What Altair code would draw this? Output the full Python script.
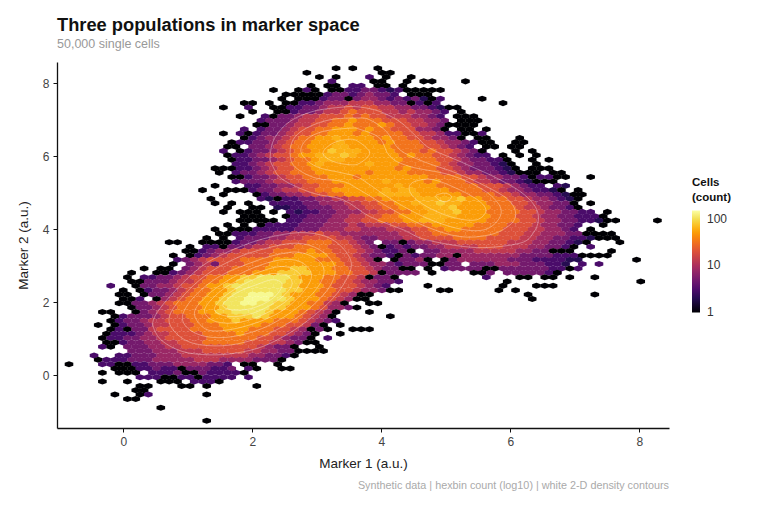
import altair as alt
import pandas as pd

# Hex counts, row by row from the top: (first column, colour levels).
LEVEL_COUNTS = {"0":1,"1":2,"2":3,"3":5,"4":8,"5":13,"6":20,"7":32,"8":50,"p":62,"9":80,"a":105,"b":135}
HEX_X0, HEX_DX = -0.842, 0.1294
HEX_Y0, HEX_DY = 8.411, 0.1192

HEX_ROWS = [
 [(32,"0 0"),(37,"0")],
 [(28,"0"),(37,"00")],
 [(30,"0 0"),(36,"2 0"),(41,"0")],
 [(31,"2"),(36,"00"),(40,"0 00"),(47,"0")],
 [(29,"0 00"),(34,"2"),(35,"2"),(37,"00 0")],
 [(24,"0"),(27,"020 002233212"),(40,"0000"),(44,"0")],
 [(26,"00000233234332 000")],
 [(25,"0"),(27,"00023303443232"),(41,"3102"),(49,"0")],
 [(21,"00"),(24,"0"),(26,"002234445554433"),(41,"0202"),(52,"0")],
 [(18,"0"),(21,"2"),(24,"002"),(27,"23345565665544332"),(44,"10"),(46,"0")],
 [(22,"0"),(25,"00"),(27,"2334556766655454432"),(47,"0")],
 [(20,"0"),(23,"20"),(25,"3345566676766555443"),(44,"2 000")],
 [(23,"233"),(26,"34556677877766655443"),(47,"000")],
 [(22,"00"),(24,"334556677877787665543"),(45,"0000")],
 [(21,"2"),(23,"2334566778887877666443"),(45,"0 00"),(50,"0")],
 [(18,"0"),(20,"202"),(23,"33456677888787777665542"),(46,"2002")],
 [(21,"0"),(22,"2344567788p88887877665443"),(47,"0 00"),(54,"0")],
 [(19,"0"),(20,"22"),(22,"3345677888p8888787776654432"),(49,"00"),(53,"00")],
 [(19,"00 3345677888pp88888777766543"),(48,"2"),(50,"00"),(53,"00")],
 [(18,"2 0"),(21,"23345677889ppp888877767665432"),(49,"0"),(53,"0"),(55,"0")],
 [(19,"02"),(21,"234566788ppp9p888887877665432"),(50,"2"),(52,"0"),(54,"0"),(56,"0")],
 [(19,"0"),(20,"2233456778ppp888888877776654"),(48,"3322"),(52,"0"),(55,"0"),(57,"0")],
 [(20,"2"),(21,"234566778p88888p88877777654"),(48,"43321"),(53,"0"),(56,"0")],
 [(17,"000"),(20,"22345667788888888887877766543"),(49,"33210"),(55,"00"),(57,"0")],
 [(18,"0"),(20,"2"),(21,"3345667778888887888877776654"),(49,"4332100"),(56,"0"),(58,"0"),(59,"0")],
 [(19,"00"),(21,"2"),(22,"33456677788878888888877776654"),(51,"4332"),(55,"0"),(56,"2"),(57,"20"),(59,"0"),(62,"0")],
 [(20,"2"),(21,"33"),(23,"345566777888888p88887877765"),(50,"54332"),(55,"1"),(56,"000")],
 [(17,"0"),(21,"2"),(22,"23344566777888888p8888777776"),(50,"665432"),(56,"2 2"),(59,"1")],
 [(16,"0"),(19,"000"),(22,"2334556677888888p8pp88887777"),(50,"6654432"),(57,"21"),(59,"0"),(61,"0")],
 [(18,"0"),(22,"0"),(23,"23344566778888ppppp88888777"),(50,"7665443"),(57,"3210"),(61,"0")],
 [(17,"0"),(23,"21022334455"),(34,"6677888"),(41,"8ppppp98"),(49,"87776"),(54,"65443"),(59,"210")],
 [(17,"0"),(19,"0"),(21,"0"),(24,"2"),(25,"22233444"),(33,"5566778"),(40,"8ppp9pp8"),(48,"88777"),(53,"66544"),(58,"33"),(60,"0"),(62,"0")],
 [(19,"0"),(22,"00"),(25,"11223334"),(33,"4556677"),(40,"888ppp98"),(48,"88877"),(53,"76554"),(58,"332"),(61,"0")],
 [(18,"0"),(20,"000"),(24,"0"),(26,"2"),(27,"122334"),(33,"4455667"),(40,"788ppp98"),(48,"88777"),(53,"76654"),(58,"4332"),(62,"2"),(64,"0")],
 [(21,"000"),(26,"0"),(27,"2233"),(31,"344556"),(37,"677888p"),(44,"ppp8888"),(51,"77766"),(56,"5443"),(60,"322"),(63,"20")],
 [(20,"00000"),(26,"2"),(27,"23"),(29,"33445"),(34,"5667778"),(41,"8ppp8888"),(49,"877776"),(55,"65443"),(60,"3221"),(64,"00"),(70,"0")],
 [(19,"0"),(21,"0"),(23,"0"),(24,"2"),(25,"22233"),(30,"34445"),(35,"4555667"),(42,"77888887"),(50,"777666"),(56,"5443"),(60,"32"),(64,"0")],
 [(17,"0"),(19,"000"),(22,"22"),(24,"2"),(25,"22333"),(30,"44455"),(35,"4445556"),(42,"6778877"),(49,"77766"),(54,"65544"),(59,"32"),(62,"0")],
 [(18,"00"),(20,"2"),(21,"22334"),(26,"45556"),(31,"554"),(34,"4444"),(38,"44556677"),(46,"7777776"),(53,"66554"),(58,"4433"),(62,"0000")],
 [(16,"0"),(18,"0 2"),(21,"33344"),(26,"55666"),(31,"65543"),(36,"3"),(37,"44455666"),(45,"677776"),(51,"6665"),(55,"5443"),(59,"322"),(62,"1000")],
 [(12,"00"),(16,"00"),(18,"002"),(21,"334"),(24,"5566"),(28,"6777"),(32,"665"),(35,"4"),(36,"3 330"),(41,"34455566"),(49,"66665"),(54,"55443"),(59,"3210"),(66,"0")],
 [(14,"0"),(16,"22"),(18,"0"),(19,"33"),(21,"4556"),(25,"6677"),(29,"776"),(32,"665"),(35,"4"),(36,"30232"),(41,"33445"),(46,"5556665"),(53,"55443"),(58,"32"),(60,"0"),(62,"2")],
 [(14,"00"),(16,"234"),(19,"4566"),(23,"667"),(26,"7778"),(30,"776"),(33,"665"),(36,"4322"),(40,"3"),(41,"0"),(43,"33444455"),(51,"555443"),(57,"3"),(58,"000"),(65,"0")],
 [(12,"0"),(14,"0"),(15,"234"),(18,"5666"),(22,"667"),(25,"7788"),(29,"887"),(32,"66"),(34,"54"),(36,"332"),(39,"0"),(40,"323344"),(46,"0"),(47,"444444"),(53,"43333"),(58,"222"),(61,"0000")],
 [(13,"234"),(16,"5666"),(20,"677"),(23,"7788"),(27,"888"),(30,"777"),(33,"66"),(35,"54"),(37,"0"),(39,"0"),(40,"334"),(43,"0"),(45,"0"),(46,"3444"),(50,"4443"),(54,"3322"),(58,"2211"),(68,"0")],
 [(12,"0"),(14,"34"),(16,"5"),(17,"3"),(18,"6"),(19,"667"),(22,"778"),(25,"88888"),(30,"887"),(33,"66"),(35,"544"),(38,"32"),(40,"333"),(43,"00"),(45,"33"),(48,"3334"),(52,"4433"),(56,"3221"),(61,"2"),(63,"2")],
 [(9,"0"),(11,"00"),(14,"345"),(17,"66"),(19,"677"),(22,"778"),(25,"88998"),(30,"887"),(33,"766"),(36,"543"),(39,"3"),(40,"00"),(43,"0"),(45,"2"),(46,"3333"),(50,"00"),(52,"3333"),(56,"3322"),(60,"02")],
 [(7,"0"),(10,"00"),(12,"234"),(15,"566"),(18,"677"),(21,"788"),(24,"89999"),(29,"888"),(32,"776"),(35,"65"),(37,"0"),(38,"33"),(40,"33"),(43,"0"),(48,"00"),(50,"3"),(52,"3333"),(56,"322"),(58,"0")],
 [(7,"0"),(9,"22"),(11,"334"),(14,"566"),(17,"778"),(20,"899"),(23,"aaaa9"),(28,"888"),(31,"776"),(34,"65"),(36,"0"),(37,"33"),(39,"0"),(50,"2"),(54,"00"),(57,"00"),(60,"0"),(63,"0")],
 [(7,"00"),(9,"3"),(10,"334"),(13,"556"),(16,"778"),(19,"89a"),(22,"aaaa9"),(27,"988"),(30,"776"),(33,"65"),(35,"443"),(38,"32"),(52,"0"),(68,"0")],
 [(5,"2"),(8,"0"),(9,"33"),(11,"44"),(13,"566"),(16,"788"),(19,"9aaa"),(23,"aaa9"),(27,"988"),(30,"8766"),(34,"65"),(36,"43"),(38,"2"),(43,"0"),(52,"0"),(56,"000")],
 [(6,"0"),(8,"02"),(10,"33"),(12,"45"),(14,"677"),(17,"889"),(20,"aaaaaa"),(26,"998"),(29,"8776"),(33,"6544"),(37,"3"),(38,"00"),(44,"00"),(51,"0"),(53,"0")],
 [(6,"00"),(9,"0"),(10,"33"),(12,"456"),(15,"778"),(18,"89a"),(21,"abbba"),(26,"988"),(29,"877"),(32,"65"),(34,"4"),(35,"00"),(55,"0"),(63,"0")],
 [(6,"00"),(8,"2"),(10,"0"),(11,"45"),(13,"677"),(16,"889"),(19,"aabbb"),(24,"aa9"),(27,"888"),(30,"76"),(32,"5"),(33,"4"),(34,"00"),(55,"0")],
 [(6,"00"),(8,"3"),(9,"34"),(11,"56"),(13,"777"),(16,"889"),(19,"aabba"),(24,"a99"),(27,"88"),(29,"77"),(31,"5"),(32,"4"),(33,"0"),(36,"00")],
 [(7,"0"),(8,"33"),(10,"45"),(12,"677"),(15,"788"),(18,"9aaa"),(22,"aa99"),(26,"888"),(29,"76"),(31,"4"),(32,"43"),(34,"0")],
 [(4,"00"),(8,"0"),(9,"34"),(11,"56"),(13,"777"),(16,"8899"),(20,"aaaa"),(24,"9888"),(28,"765"),(31,"4"),(32,"0"),(36,"0")],
 [(5,"0"),(6,"23"),(8,"334"),(11,"566"),(14,"777"),(17,"8899"),(21,"9a98"),(25,"887"),(28,"65"),(30,"4"),(31,"0"),(38,"0")],
 [(5,"0"),(6,"2"),(7,"334"),(10,"556"),(13,"667"),(16,"7888"),(20,"9888"),(24,"877"),(27,"76"),(29,"54"),(31,"3"),(32,"2")],
 [(3,"0"),(5,"0"),(6,"2"),(7,"334"),(10,"556"),(13,"667"),(16,"7788"),(20,"8887"),(24,"776"),(27,"65"),(29,"3"),(30,"0"),(32,"0")],
 [(5,"0"),(6,"2"),(7,"0"),(8,"33"),(10,"566"),(13,"667"),(16,"7778"),(20,"8877"),(24,"766"),(27,"54"),(29,"0"),(30,"3"),(31,"0"),(34,"000")],
 [(4,"022"),(7,"23"),(9,"45"),(11,"566"),(14,"667"),(17,"7778"),(21,"777"),(24,"66"),(26,"54"),(28,"3"),(29,"0"),(32,"0")],
 [(4,"0"),(5,"2"),(6,"23"),(8,"344"),(11,"566"),(14,"666"),(17,"7777"),(21,"776"),(24,"65"),(26,"43"),(28,"3"),(29,"0"),(31,"2")],
 [(4,"00"),(6,"23"),(8,"344"),(11,"5566"),(15,"6777"),(19,"7766"),(23,"65"),(25,"543"),(28,"00")],
 [(4,"2"),(5,"0"),(7,"3"),(8,"334"),(11,"4556"),(15,"6666"),(19,"6666"),(23,"54"),(25,"33"),(27,"0"),(30,"0")],
 [(7,"33"),(9,"344"),(12,"4555"),(16,"6666"),(20,"655"),(23,"443"),(26,"3"),(27,"00"),(29,"00")],
 [(3,"2"),(6,"2"),(7,"233"),(10,"344"),(13,"4555"),(17,"5555"),(21,"544"),(24,"33"),(26,"2"),(27,"0")],
 [(3,"0"),(4,"2"),(5,"2"),(6,"233"),(9,"344"),(12,"4445"),(16,"5544"),(20,"443"),(23,"33"),(25,"0")],
 [(0,"0"),(4,"2"),(5,"2"),(6,"00"),(8,"22"),(10,"3334"),(14,"44433"),(19,"2"),(21,"00"),(25,"0")],
 [(5,"00"),(7,"0"),(8,"22"),(10,"3"),(11,"2"),(12,"2"),(13,"0"),(14,"3332"),(18,"23"),(21,"2"),(22,"0"),(25,"00")],
 [(4,"0"),(6,"00"),(8,"0"),(10,"22"),(12,"23"),(14,"0"),(15,"0"),(16,"32"),(18,"22"),(20,"2"),(21,"0")],
 [(8,"2"),(9,"2"),(10,"2"),(11,"00"),(13,"22"),(15,"02"),(17,"222"),(21,"2")],
 [(4,"0"),(7,"0"),(11,"00"),(13,"0"),(15,"2"),(16,"22"),(18,"0")],
 [(8,"00"),(13,"00"),(16,"0"),(22,"0")],
 [(8,"00")],
 [(5,"0"),(8,"02"),(16,"0")],
 [(7,"00")],
 [],
 [(11,"0")],
 [],
 [],
 [(16,"0")],
]

# Density contours, in marker units.
RING_LOW_1 = [(.466,1.52),(.611,1.93),(.921,2.53),(1.284,3.07),(1.75,3.48),(2.215,3.76),(2.733,3.91),(3.147,3.80),(3.406,3.48),(3.535,3.07),(3.457,2.62),(3.25,2.11),(2.94,1.61),(2.578,1.16),(2.164,.79),(1.75,.61),(1.335,.56),(.921,.65),(.611,.93),(.481,1.25)]
RING_LOW_2 = [(.714,1.61),(.921,2.16),(1.284,2.75),(1.75,3.21),(2.215,3.48),(2.681,3.62),(3.043,3.44),(3.276,2.98),(3.199,2.43),(2.888,1.84),(2.474,1.34),(2.008,.97),(1.543,.81),(1.077,.88),(.792,1.2)]
RING_LOW_3 = [(.921,1.66),(1.128,2.21),(1.491,2.71),(1.957,3.07),(2.37,3.30),(2.733,3.37),(3.043,3.12),(3.106,2.75),(2.94,2.25),(2.578,1.70),(2.164,1.29),(1.698,1.06),(1.284,1.06),(.999,1.29)]
RING_LOW_4 = [(1.102,1.70),(1.284,2.16),(1.594,2.57),(2.008,2.94),(2.422,3.16),(2.733,3.12),(2.914,2.80),(2.836,2.39),(2.526,1.84),(2.112,1.47),(1.646,1.25),(1.284,1.26)]
RING_LOW_5 = [(1.258,1.75),(1.413,2.16),(1.698,2.53),(2.06,2.80),(2.422,2.98),(2.655,2.89),(2.759,2.62),(2.578,2.11),(2.215,1.70),(1.801,1.45),(1.439,1.47)]
RING_LOW_6 = [(1.413,1.79),(1.568,2.16),(1.905,2.53),(2.267,2.78),(2.552,2.71),(2.604,2.43),(2.371,2.02),(2.008,1.70),(1.646,1.61)]
RING_LOW_7 = [(1.542,1.93),(1.75,2.25),(2.06,2.48),(2.319,2.62),(2.464,2.48),(2.319,2.11),(2.008,1.84),(1.698,1.79)]
RING_UP_1 = [(2.277,6.0),(2.345,6.5),(2.578,6.95),(2.94,7.23),(3.406,7.35),(3.665,7.35),(3.975,7.23),(4.286,6.95),(4.545,6.54),(4.752,6.22),(5.217,5.86),(5.735,5.45),(6.15,5.04),(6.383,4.63),(6.435,4.26),(6.356,3.90),(6.15,3.62),(5.476,3.50),(4.7,3.71),(4.337,3.99),(3.82,4.35),(3.406,4.81),(2.94,4.99),(2.474,5.36),(2.319,5.72)]
RING_UP_2 = [(2.588,6.0),(2.63,6.45),(2.836,6.77),(3.199,7.0),(3.613,7.05),(3.82,7.0),(4.079,6.68),(4.286,6.18),(4.648,5.86),(5.166,5.54),(5.631,5.17),(5.968,4.81),(6.082,4.44),(5.994,4.12),(5.683,3.85),(5.217,3.80),(4.7,4.07),(4.182,4.53),(3.665,5.08),(3.406,5.31),(2.99,5.40),(2.681,5.68)]
RING_UP_3 = [(2.759,6.09),(2.836,6.45),(3.095,6.68),(3.509,6.77),(3.665,6.74),(3.975,6.50),(4.131,6.0),(4.441,5.72),(5.062,5.49),(5.58,5.08),(5.839,4.63),(5.813,4.26),(5.58,3.98),(5.166,4.03),(4.648,4.35),(4.131,4.85),(3.665,5.40),(3.406,5.54),(2.99,5.72)]
RING_UP_4 = [(3.095,6.09),(3.25,6.36),(3.509,6.47),(3.665,6.38),(3.82,6.09),(3.665,5.81),(3.509,5.77),(3.25,5.86)]
RING_UP_5 = [(4.431,5.13),(4.519,5.31),(4.804,5.36),(5.217,5.08),(5.528,4.76),(5.62,4.49),(5.476,4.26),(5.166,4.3),(4.804,4.53),(4.519,4.85)]
RING_UP_6 = [(4.845,4.92),(4.985,4.99),(5.089,4.9),(5.02,4.76),(4.907,4.79)]
RINGS = [RING_LOW_1,RING_LOW_2,RING_LOW_3,RING_LOW_4,RING_LOW_5,RING_LOW_6,RING_LOW_7,
         RING_UP_1,RING_UP_2,RING_UP_3,RING_UP_4,RING_UP_5,RING_UP_6]

X_TICKS = [0, 2, 4, 6, 8]
Y_TICKS = [0, 2, 4, 6, 8]
LEGEND_TICKS = [1, 10, 100]

hex_records = []
for r, segments in enumerate(HEX_ROWS):
    for start, levels in segments:
        for k, ch in enumerate(levels):
            if ch != " ":
                hex_records.append({
                    "x": HEX_X0 + HEX_DX * (start + k + (0.5 if r % 2 else 0)),
                    "y": HEX_Y0 - HEX_DY * r,
                    "count": LEVEL_COUNTS[ch],
                })
hex_df = pd.DataFrame(hex_records)

ring_records = []
for i, ring in enumerate(RINGS):
    for j, (x, y) in enumerate(ring):
        ring_records.append({"x": x, "y": y, "ring": i, "idx": j})
ring_df = pd.DataFrame(ring_records)

FONT = "Liberation Sans"
W, H = 612, 366
xs = alt.Scale(domain=[-1.028, 8.46], nice=False, zero=False)
ys = alt.Scale(domain=[-1.444, 8.584], nice=False, zero=False)
HEX_PATH = "M0,-0.7L1,-0.35L1,0.35L0,0.7L-1,0.35L-1,-0.35Z"

hexes = alt.Chart(hex_df).mark_point(shape=HEX_PATH, filled=True, size=74, opacity=1, strokeWidth=0).encode(
    x=alt.X("x:Q", scale=xs, axis=alt.Axis(values=X_TICKS, title="Marker 1 (a.u.)", grid=False, format="d", titlePadding=9)),
    y=alt.Y("y:Q", scale=ys, axis=alt.Axis(values=Y_TICKS, title="Marker 2 (a.u.)", grid=False, format="d", titlePadding=12)),
    color=alt.Color("count:Q",
        scale=alt.Scale(type="log", domain=[0.999, 148], scheme="inferno"),
        legend=alt.Legend(title=["Cells", "(count)"], values=LEGEND_TICKS, format="d", orient="none",
                          legendX=635, legendY=115, gradientLength=102, gradientThickness=8,
                          gradientStrokeWidth=0, titleFontSize=11.5, titleFontWeight="bold", titleColor="#111",
                          titleFont=FONT, labelFont=FONT, labelFontSize=12, labelColor="#333",
                          titleLineHeight=15, titlePadding=7, labelOffset=7, tickCount=3, zindex=0)),
)

rings = alt.Chart(ring_df).mark_line(interpolate="cardinal-closed", color="white", opacity=0.5, strokeWidth=0.7).encode(
    x=alt.X("x:Q", scale=xs),
    y=alt.Y("y:Q", scale=ys),
    detail="ring:N",
    order="idx:Q",
)

caption = alt.Chart(pd.DataFrame({"t": ["Synthetic data | hexbin count (log10) | white 2-D density contours"]})).mark_text(
    align="right", baseline="middle", font=FONT, fontSize=10.8, color="#aaaaaa"
).encode(x=alt.value(W), y=alt.value(424), text="t:N")

# Small white notches on the colour bar at 10 and 100.
notches = [
    alt.Chart(pd.DataFrame({"k": [0]})).mark_rule(color="white", strokeWidth=0.8).encode(
        x=alt.value(x0), x2=alt.value(x0 + 2.5), y=alt.value(yy))
    for yy in (156, 203) for x0 in (635, 640.5)
]

chart = alt.layer(hexes, rings, caption, *notches).properties(
    width=W, height=H,
    autosize=alt.AutoSizeParams(type="none"),
    padding={"left": 49, "top": 54, "right": 75, "bottom": 72},
    background="white",
    title=alt.TitleParams(
        text="Three populations in marker space", subtitle="50,000 single cells",
        anchor="start", frame="group", font=FONT, fontSize=18.3, fontWeight="bold", color="#111111",
        subtitleFont=FONT, subtitleFontSize=12.5, subtitleColor="#999999", subtitlePadding=2, offset=11,
    ),
).configure_view(strokeWidth=0).configure_axis(
    domainColor="#111111", domainWidth=1.3, tickColor="#111111", tickWidth=1, tickSize=4,
    labelColor="#444444", labelFont=FONT, labelFontSize=12, labelPadding=4,
    titleColor="#222222", titleFont=FONT, titleFontSize=13.5, titleFontWeight="normal",
)

chart.save("out.html", embed_options={"renderer": "svg", "actions": False})
